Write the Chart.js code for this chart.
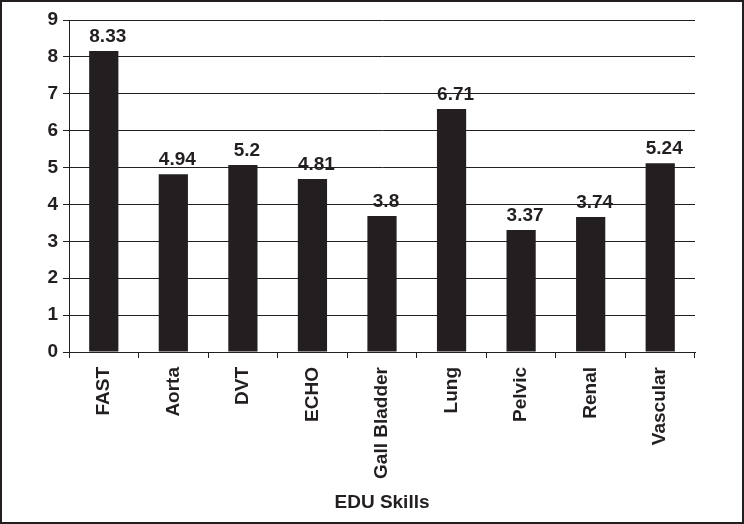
<!DOCTYPE html>
<html>
<head>
<meta charset="utf-8">
<script src="https://cdn.jsdelivr.net/npm/chart.js@4/dist/chart.umd.min.js"></script>
<style>
    body { margin:0; background:#fff; }
    #wrap { position:relative; width:744px; height:524px; }
    #wrap::after { content:""; position:absolute; left:0; top:0; right:0; bottom:0; border:2px solid #231f20; box-sizing:border-box; pointer-events:none; }
    canvas { display:block; }
</style>
</head>
<body>
<div id="wrap"><canvas id="mainChart" width="744" height="524"></canvas></div>
<script>
const skills = ["FAST", "Aorta", "DVT", "ECHO", "Gall Bladder", "Lung", "Pelvic", "Renal", "Vascular"];
// bar heights as drawn in the picture
const barHeights = [8.16, 4.82, 5.07, 4.69, 3.69, 6.59, 3.31, 3.66, 5.12];
// value labels printed above the bars
const valueLabels = ["8.33", "4.94", "5.2", "4.81", "3.8", "6.71", "3.37", "3.74", "5.24"];
const yTicks = [0, 1, 2, 3, 4, 5, 6, 7, 8, 9];

const ink = "#231f20";
const fontFamily = "'Liberation Sans', Arial, sans-serif";

const valueLabelPlugin = {
    id: "valueLabels",
    afterDatasetsDraw(chart){
        const ctx = chart.ctx;
        const meta = chart.getDatasetMeta(0);
        ctx.save();
        ctx.fillStyle = ink;
        ctx.font = "bold 19px " + fontFamily;
        ctx.textAlign = "center";
        ctx.textBaseline = "bottom";
        meta.data.forEach((bar, i) => {
            ctx.fillText(valueLabels[i], bar.x + 4, bar.y - 5);
        });
        ctx.restore();
    }
};

new Chart(document.getElementById("mainChart"), {
    type: "bar",
    data: {
        labels: skills,
        datasets: [{
            data: barHeights,
            backgroundColor: ink,
            borderWidth: 0,
            barPercentage: 0.42,
            categoryPercentage: 1
        }]
    },
    options: {
        responsive: false,
        animation: false,
        layout: { padding: { top: 20, right: 49, bottom: 0, left: 0 } },
        plugins: { legend: { display: false }, tooltip: { enabled: false } },
        scales: {
            x: {
                grid: { display: true, drawOnChartArea: false, drawTicks: true, tickLength: 6, color: ink, offset: true },
                border: { display: true, color: ink, width: 1 },
                ticks: {
                    color: ink, font: { family: fontFamily, size: 19, weight: "bold" },
                    minRotation: 90, maxRotation: 90, padding: 9, autoSkip: false
                },
                title: {
                    display: true, text: "EDU Skills", color: ink,
                    font: { family: fontFamily, size: 19, weight: "bold" },
                    padding: { top: 4, bottom: 10 }
                },
                afterFit(scale){ scale.height = 172; }
            },
            y: {
                min: 0, max: 9,
                grid: { color: ink, lineWidth: 1, drawTicks: true, tickLength: 6 },
                border: { display: true, color: ink, width: 1 },
                afterBuildTicks(scale){ scale.ticks = yTicks.map(v => ({ value: v })); },
                ticks: {
                    color: ink, font: { family: fontFamily, size: 19, weight: "bold" },
                    padding: 5
                },
                afterFit(scale){ scale.width = 69; }
            }
        }
    },
    plugins: [valueLabelPlugin]
});
</script>
</body>
</html>
